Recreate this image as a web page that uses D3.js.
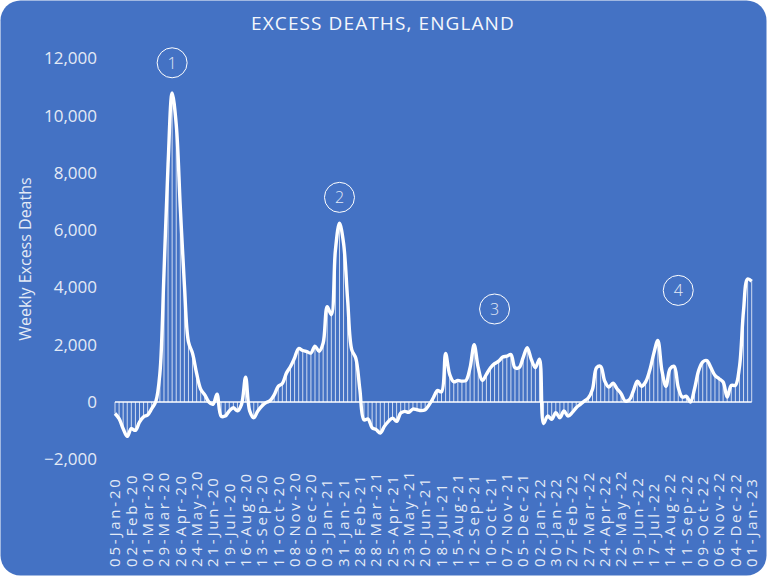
<!DOCTYPE html>
<html>
<head>
<meta charset="utf-8">
<script src="https://cdn.jsdelivr.net/npm/d3@7"></script>
<style>
  html, body { margin: 0; padding: 0; background: #fff; }
  svg { display: block; }
  text { font-family: "Open Sans", "Noto Sans", sans-serif; fill: #e3eaf6; }
</style>
</head>
<body>
<svg id="chart"></svg>
<script>
// weekly excess deaths, England, week ending 05-Jan-20 .. 01-Jan-23
var excess = [
  -400, -580, -930, -1200, -930, -990, -700, -520, -450, -230,
  20, 1000, 4500, 8300, 10800, 9700, 6800, 4100, 2100, 1700,
  1000, 450, 250, 0, -80, 270, -490, -490, -310, -200,
  -310, -80, 870, -310, -550, -310, -140, -20, 50, 250,
  550, 650, 1010, 1240, 1540, 1870, 1800, 1760, 1710, 1950,
  1770, 2060, 3330, 3050, 5300, 6250, 5550, 3570, 1830, 1530,
  430, -620, -590, -900, -965, -1080, -850, -675, -560, -675,
  -385, -325, -360, -245, -270, -300, -270, -90, 150, 400,
  360, 1700, 965, 710, 755, 730, 755, 1200, 2000, 1200,
  755, 965, 1200, 1340, 1430, 1570, 1600, 1660, 1200, 1200,
  1550, 1900, 1490, 1200, 1500, -750, -490, -600, -370, -550,
  -315, -490, -370, -200, -80, 35, 150, 450, 1200, 1245,
  730, 520, 660, 465, 290, 35, 80, 385, 730, 550,
  700, 1100, 1690, 2150, 1100, 550, 1160, 1245, 520, 175,
  200, 0, 465, 1100, 1400, 1450, 1200, 930, 815, 700,
  175, 580, 580, 1220, 3200, 4300, 4220
];

// one label every fourth week
var weekLabels = [
  "05-Jan-20", "02-Feb-20", "01-Mar-20", "29-Mar-20", "26-Apr-20", "24-May-20",
  "21-Jun-20", "19-Jul-20", "16-Aug-20", "13-Sep-20", "11-Oct-20", "08-Nov-20",
  "06-Dec-20", "03-Jan-21", "31-Jan-21", "28-Feb-21", "28-Mar-21", "25-Apr-21",
  "23-May-21", "20-Jun-21", "18-Jul-21", "15-Aug-21", "12-Sep-21", "10-Oct-21",
  "07-Nov-21", "05-Dec-21", "02-Jan-22", "30-Jan-22", "27-Feb-22", "27-Mar-22",
  "24-Apr-22", "22-May-22", "19-Jun-22", "17-Jul-22", "14-Aug-22", "11-Sep-22",
  "09-Oct-22", "06-Nov-22", "04-Dec-22", "01-Jan-23"
];

var yTicks = [-2000, 0, 2000, 4000, 6000, 8000, 10000, 12000];

// numbered waves: week index and height of the circled label
var waves = ["1", "2", "3", "4"];
var waveWeek = [14, 55, 93, 138];
var waveLevel = [11850, 7150, 3250, 3900];

var width = 767, height = 576;
var formatNumber = d3.format(",");

var svg = d3.select("#chart")
  .attr("width", width)
  .attr("height", height);

svg.append("rect")
  .attr("x", 0.5).attr("y", 0.5)
  .attr("width", width - 1).attr("height", height - 1)
  .attr("rx", 20).attr("ry", 20)
  .attr("fill", "#4472c4");

var x = d3.scaleLinear()
  .domain([0, excess.length - 1])
  .range([115, 751.7]);
var y = d3.scaleLinear()
  .domain([-2000, 12000])
  .range([459.3, 58.5]);

// title
svg.append("text")
  .attr("x", 383)
  .attr("y", 30)
  .attr("text-anchor", "middle")
  .style("font-size", "19px")
  .style("letter-spacing", "1.1px")
  .style("fill", "#f4f7fc")
  .text("EXCESS DEATHS, ENGLAND");

// y axis labels
svg.append("g")
  .selectAll("text")
  .data(yTicks)
  .enter()
  .append("text")
  .attr("x", 97)
  .attr("y", d => y(d))
  .attr("dy", "0.35em")
  .attr("text-anchor", "end")
  .style("font-size", "17px")
  .text(d => formatNumber(d));

svg.append("text")
  .attr("transform", "translate(31, 259) rotate(-90)")
  .attr("text-anchor", "middle")
  .style("font-size", "16px")
  .text("Weekly Excess Deaths");

// x axis labels
svg.append("g")
  .selectAll("text")
  .data(weekLabels)
  .enter()
  .append("text")
  .attr("transform", (d, i) => `translate(${x(i * 4)}, 567) rotate(-90)`)
  .attr("dy", "0.35em")
  .attr("text-anchor", "start")
  .style("font-size", "15px")
  .style("letter-spacing", "2.8px")
  .text(d => d);

// drop lines
svg.append("g")
  .selectAll("line")
  .data(excess)
  .enter()
  .append("line")
  .attr("x1", (d, i) => x(i))
  .attr("x2", (d, i) => x(i))
  .attr("y1", y(0))
  .attr("y2", d => y(d))
  .attr("stroke", "#ffffff")
  .attr("stroke-opacity", 0.75)
  .attr("stroke-width", 1);

// zero line
svg.append("line")
  .attr("x1", x(0))
  .attr("x2", x(excess.length - 1))
  .attr("y1", y(0))
  .attr("y2", y(0))
  .attr("stroke", "#ffffff")
  .attr("stroke-width", 1.5);

var line = d3.line()
  .x((d, i) => x(i))
  .y(d => y(d))
  .curve(d3.curveCatmullRom.alpha(0.5));

svg.append("path")
  .datum(excess)
  .attr("d", line)
  .attr("fill", "none")
  .attr("stroke", "#ffffff")
  .attr("stroke-width", 3.4)
  .attr("stroke-linejoin", "round");

// circled wave numbers
var marks = svg.append("g")
  .selectAll("g")
  .data(waves)
  .enter()
  .append("g")
  .attr("transform", (d, i) => `translate(${x(waveWeek[i])}, ${y(waveLevel[i])})`);
marks.append("circle")
  .attr("r", 15)
  .attr("fill", "none")
  .attr("stroke", "#ffffff")
  .attr("stroke-width", 1);
marks.append("text")
  .attr("text-anchor", "middle")
  .attr("dy", "0.36em")
  .style("font-size", "16px")
  .style("font-weight", 300)
  .text(d => d);
</script>
</body>
</html>
